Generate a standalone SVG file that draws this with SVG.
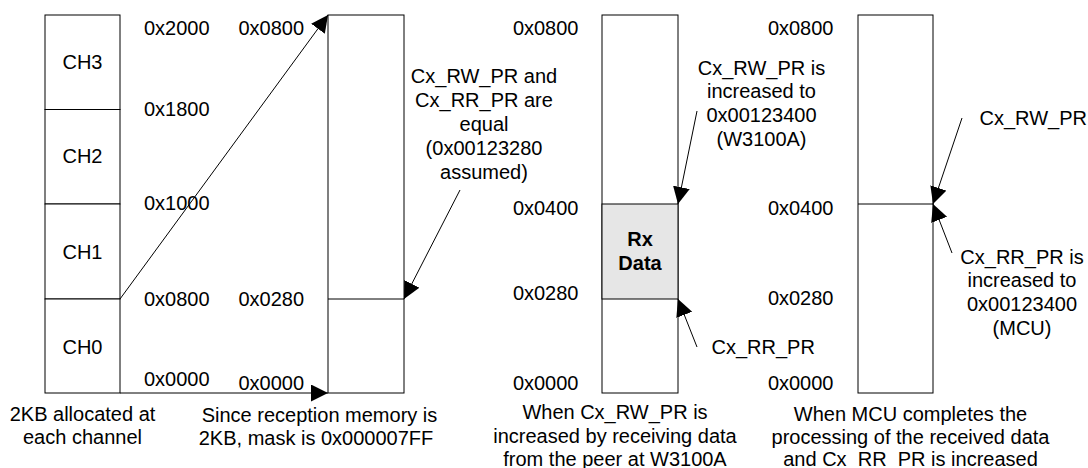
<svg xmlns="http://www.w3.org/2000/svg" width="1088" height="468" viewBox="0 0 1088 468">
<style>
text{font-family:"Liberation Sans",Arial,sans-serif;font-size:20px;fill:#000}
.c{text-anchor:middle}
.e{text-anchor:end}
.b{font-weight:bold}
.box{fill:#fff;stroke:#000;stroke-width:1}
.rx{fill:#e6e6e6;stroke:#000;stroke-width:1}
.ln{fill:none;stroke:#000;stroke-width:1}
</style>
<defs>
<marker id="ah" markerUnits="userSpaceOnUse" markerWidth="18" markerHeight="18" refX="17" refY="8.5" orient="auto">
<path d="M0,0 L17,8.5 L0,17 z" fill="#000"/>
</marker>
</defs>
<rect width="1088" height="468" fill="#fff"/>

<g id="channels">
<rect class="box" x="45" y="15" width="75" height="94.5"/>
<rect class="box" x="45" y="109.5" width="75" height="94.5"/>
<rect class="box" x="45" y="204" width="75" height="95"/>
<rect class="box" x="45" y="299" width="75" height="94"/>
<text class="c" x="82.5" y="68.5">CH3</text>
<text class="c" x="82.5" y="163">CH2</text>
<text class="c" x="82.5" y="259">CH1</text>
<text class="c" x="82.5" y="353.5">CH0</text>
<text x="144" y="34.5">0x2000</text>
<text x="144" y="116">0x1800</text>
<text x="144" y="210">0x1000</text>
<text x="144" y="305.5">0x0800</text>
<text x="144" y="386">0x0000</text>
<text class="c" x="82.5" y="421">2KB allocated at</text>
<text class="c" x="82.5" y="444">each channel</text>
</g>

<g id="rxmem-initial">
<rect class="box" x="328" y="15" width="76" height="378"/>
<line class="ln" x1="328" y1="299" x2="404" y2="299"/>
<text x="238.5" y="34.5">0x0800</text>
<text x="238.5" y="305.5">0x0280</text>
<text x="238.5" y="390">0x0000</text>
<text class="c" x="319.5" y="421.5">Since reception memory is</text>
<text class="c" x="316" y="445">2KB, mask is 0x000007FF</text>
<text class="c" x="484" y="82.5">Cx_RW_PR and</text>
<text class="c" x="484" y="106.5">Cx_RR_PR are</text>
<text class="c" x="484" y="130.5">equal</text>
<text class="c" x="484" y="155">(0x00123280</text>
<text class="c" x="484" y="179">assumed)</text>
</g>

<g id="rxmem-received">
<rect class="box" x="602" y="15" width="76" height="378"/>
<rect class="rx" x="602" y="204" width="76" height="95"/>
<text class="e" x="578.5" y="34.5">0x0800</text>
<text class="e" x="578.5" y="214.5">0x0400</text>
<text class="e" x="578.5" y="300">0x0280</text>
<text class="e" x="578.5" y="390">0x0000</text>
<text class="c b" x="640" y="246">Rx</text>
<text class="c b" x="640" y="270">Data</text>
<text class="c" x="761.5" y="75">Cx_RW_PR is</text>
<text class="c" x="761.5" y="98">increased to</text>
<text class="c" x="761.5" y="122">0x00123400</text>
<text class="c" x="761.5" y="145.5">(W3100A)</text>
<text x="711.5" y="353.5">Cx_RR_PR</text>
<text class="c" x="615" y="418.5">When Cx_RW_PR is</text>
<text class="c" x="615" y="443">increased by receiving data</text>
<text class="c" x="615" y="466">from the peer at W3100A</text>
</g>

<g id="rxmem-processed">
<rect class="box" x="858" y="15" width="75" height="378"/>
<line class="ln" x1="858" y1="204" x2="933" y2="204"/>
<text class="e" x="833.5" y="34.5">0x0800</text>
<text class="e" x="833.5" y="214.5">0x0400</text>
<text class="e" x="833.5" y="305">0x0280</text>
<text class="e" x="833.5" y="390">0x0000</text>
<text x="979.5" y="124.5">Cx_RW_PR</text>
<text class="c" x="1022" y="263.5">Cx_RR_PR is</text>
<text class="c" x="1022" y="287">increased to</text>
<text class="c" x="1022" y="310.5">0x00123400</text>
<text class="c" x="1022" y="334.5">(MCU)</text>
<text class="c" x="910.5" y="421">When MCU completes the</text>
<text class="c" x="910.5" y="443.5">processing of the received data</text>
<text class="c" x="910.5" y="466">and Cx_RR_PR is increased</text>
</g>

<g id="connectors">
<line class="ln" x1="120" y1="299" x2="328" y2="15" marker-end="url(#ah)"/>
<line class="ln" x1="120" y1="393" x2="328" y2="393" marker-end="url(#ah)"/>
<line class="ln" x1="460" y1="190" x2="404" y2="299" marker-end="url(#ah)"/>
<line class="ln" x1="697" y1="111" x2="678" y2="204" marker-end="url(#ah)"/>
<line class="ln" x1="697" y1="347" x2="678" y2="299" marker-end="url(#ah)"/>
<line class="ln" x1="962" y1="118" x2="933" y2="204" marker-end="url(#ah)"/>
<line class="ln" x1="952" y1="253" x2="933" y2="204" marker-end="url(#ah)"/>
</g>
</svg>
